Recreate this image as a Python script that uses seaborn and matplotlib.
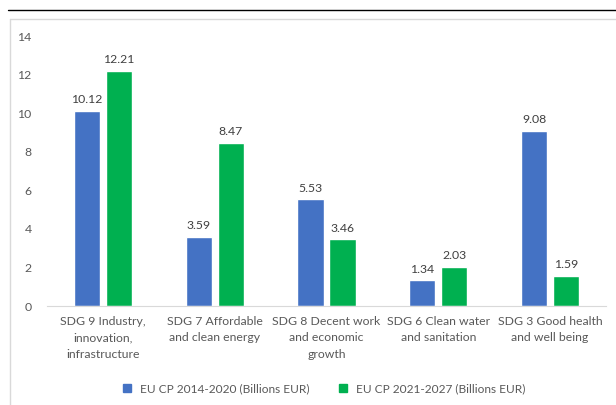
import matplotlib
matplotlib.use("Agg")
from matplotlib import pyplot as plt
import matplotlib.lines as mlines
import pandas as pd
import seaborn as sns

categories = ["SDG 9 Industry,\ninnovation,\ninfrastructure",
              "SDG 7 Affordable\nand clean energy",
              "SDG 8 Decent work\nand economic\ngrowth",
              "SDG 6 Clean water\nand sanitation",
              "SDG 3 Good health\nand well being"]
series = ["EU CP 2014-2020 (Billions EUR)", "EU CP 2021-2027 (Billions EUR)"]
cp_2014_2020 = [10.12, 3.59, 5.53, 1.34, 9.08]
cp_2021_2027 = [12.21, 8.47, 3.46, 2.03, 1.59]

df = pd.DataFrame({
    "cat": categories * 2,
    "series": [series[0]] * 5 + [series[1]] * 5,
    "value": cp_2014_2020 + cp_2021_2027,
})

sns.set_style("white")
plt.rcParams["font.family"] = ["Lato", "DejaVu Sans"]
txt = "#595959"
fs = 8.8

fig = plt.figure(figsize=(6.16, 4.05), dpi=100)
ax = fig.add_axes([47 / 616, 0.244, 559 / 616, 0.667])

sns.barplot(data=df, x="cat", y="value", hue="series",
            palette=["#4472C4", "#00B050"], width=0.572, gap=0.185,
            saturation=1, ax=ax, legend=False)

for cont in ax.containers:
    ax.bar_label(cont, fmt="%.2f", padding=4, fontsize=fs, color="#404040")

ax.set_ylim(0, 14)
ax.set_yticks(range(0, 15, 2))
ax.set_xlabel("")
ax.set_ylabel("")
ax.tick_params(axis="both", length=0, labelsize=fs, colors=txt)
ax.tick_params(axis="y", pad=11)
ax.tick_params(axis="x", pad=7)
for lab in ax.get_xticklabels():
    lab.set_linespacing(1.62)
for s in ["top", "right", "left"]:
    ax.spines[s].set_visible(False)
ax.spines["bottom"].set_color("#d9d9d9")

# legend
handles = [mlines.Line2D([], [], marker="s", ls="", color=c, markersize=6)
           for c in ["#4472C4", "#00B050"]]
fig.legend(handles, series, loc="center", bbox_to_anchor=(0.52, 1 - 389 / 405),
           ncol=2, frameon=False, fontsize=8.6, labelcolor=txt,
           handletextpad=0.1, columnspacing=1.8)

# chart frame and top rule
top = 1 - 18.5 / 405
left = 10 / 616
fig.add_artist(mlines.Line2D([left, 1], [top, top], transform=fig.transFigure,
                             color="#d9d9d9", lw=1))
fig.add_artist(mlines.Line2D([left, left], [0, top], transform=fig.transFigure,
                             color="#d9d9d9", lw=1))
fig.add_artist(mlines.Line2D([8 / 616, 1], [1 - 10 / 405] * 2,
                             transform=fig.transFigure, color="black", lw=1))

fig.savefig("out.png", dpi=100)
